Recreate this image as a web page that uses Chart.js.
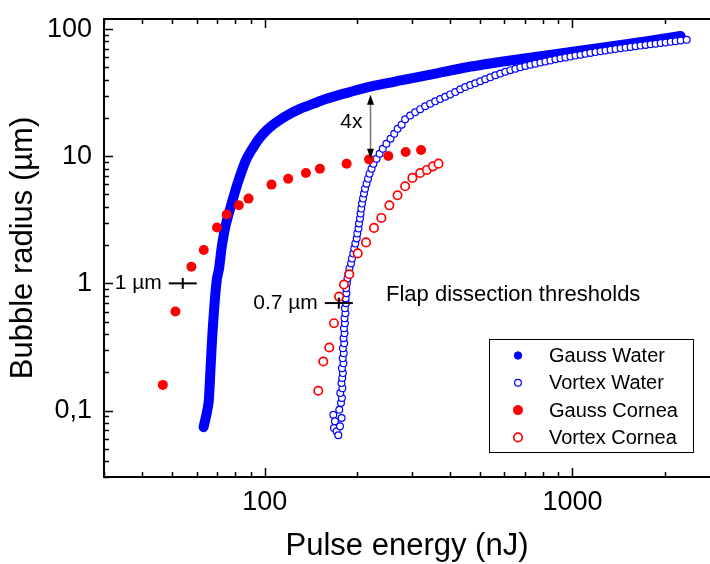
<!DOCTYPE html>
<html>
<head>
<meta charset="utf-8">
<script src="https://cdn.jsdelivr.net/npm/chart.js@4.4.1/dist/chart.umd.min.js"></script>
<style>
  html, body { margin: 0; padding: 0; background: #fff; }
</style>
</head>
<body>
<canvas id="bubbleChart" width="710" height="564"></canvas>
<script>
const FONT = "'Liberation Sans', Arial, sans-serif";

const seriesNames = ['Gauss Water', 'Vortex Water', 'Gauss Cornea', 'Vortex Cornea'];

// pulse energy (nJ) / bubble radius (µm)
const gaussWaterEnergy = [63.2, 64.6, 65.7, 66.6, 67.5, 68.7, 69.9, 71.0, 72.3, 74.6, 78.8, 82.5, 87.2, 94.0, 98.7,
    103.8, 111.9, 120.6, 130.0, 143.3, 156.8, 179.5, 219.8, 282.2, 362.5, 453.9, 628, 914, 1330, 1729, 2248];
const gaussWaterRadius = [0.074, 0.093, 0.118, 0.215, 0.393, 0.719, 1.094, 1.31, 1.88, 2.87, 4.64, 6.66, 9.55, 12.9, 15.0,
    16.88, 19.33, 21.54, 23.58, 25.8, 28.0, 30.9, 35.3, 39.8, 44.9, 50.1, 56.6, 64.2, 72.9, 79.8, 88.1];

const vortexWaterEnergy = [
    166.9, 169.0, 167.8, 171.2, 173.3, 175.5, 177.7, 174.6,
    176.8, 178.1, 175.9, 178.7, 177.4, 178.5, 179.4, 178.1, 180.1, 179.1, 180.5, 179.4, 181.2, 180.2, 181.6, 180.8,
    182.1, 181.5, 182.8, 182.1, 183.5, 183.1, 184.2, 183.8, 184.9, 185.6, 187.0, 188.4, 190.6, 192.0, 193.8, 195.3,
    196.8, 198.9, 199.8, 201.6, 202.4, 203.9, 204.7, 205.9, 207.0, 208.5, 210.1, 211.7, 214.1, 216.5, 219.0, 222.2,
    225.5, 230.8, 236.1, 241.7, 248.4, 256.2, 263.4, 270.2, 278.4,
    285.8, 296.7, 308.1, 319.8, 332.0, 344.7, 357.9, 371.5, 385.7, 400.5, 415.8, 431.7, 448.2, 465.3, 483.1, 501.6,
    520.7, 540.6, 561.3, 582.8, 605.0, 628.1, 652.2, 677.1, 703.0, 729.8, 757.7, 786.7, 816.7, 847.9, 880.3, 913.9,
    948.9, 985.1, 1023, 1062, 1102, 1144, 1188, 1234, 1281, 1330, 1381, 1434, 1488, 1545, 1604, 1665, 1729, 1795,
    1864, 1935, 2009, 2086, 2166, 2248, 2352];
const vortexWaterRadius = [
    0.0927, 0.0823, 0.0729, 0.0687, 0.0639, 0.0752, 0.0873, 0.1015,
    0.1145, 0.1253, 0.1372, 0.150, 0.1643, 0.180, 0.197, 0.2154, 0.2358, 0.258, 0.2825, 0.309, 0.338, 0.370, 0.4055, 0.4436,
    0.4856, 0.5314, 0.5816, 0.6368, 0.6967, 0.7627, 0.835, 0.914, 1.0, 1.094, 1.198, 1.311, 1.435, 1.571, 1.719, 1.882,
    2.059, 2.254, 2.467, 2.70, 2.955, 3.234, 3.54, 3.873, 4.24, 4.64, 5.08, 5.56, 6.085, 6.66, 7.29, 7.98,
    8.73, 9.55, 10.46, 11.45, 12.53, 13.71, 15.01, 16.43, 17.66,
    19.51, 20.89, 22.13, 23.46, 24.71, 25.90, 27.00, 28.14, 29.39, 30.64, 31.94, 33.66, 34.96, 36.24, 37.51, 38.82,
    40.25, 41.73, 43.35, 44.77, 46.17, 47.53, 48.74, 50.08, 51.27, 52.40, 53.45, 54.52, 55.61, 56.72, 57.86, 58.91,
    59.88, 60.85, 61.85, 62.86, 63.89, 64.94, 65.89, 66.85, 67.83, 68.69, 69.57, 70.57, 71.47, 72.38, 73.30, 74.10,
    74.91, 75.86, 76.68, 77.66, 78.50, 79.36, 80.22, 81.24, 82.43];

const gaussCorneaEnergy = [46.6, 51.2, 57.7, 63.3, 69.9, 75.2, 82.3, 88.5, 105.1, 119.1, 136, 151, 184.5, 218.2, 252, 287, 322];
const gaussCorneaRadius = [0.159, 0.60, 1.35, 1.83, 2.75, 3.48, 4.11, 4.64, 5.98, 6.66, 7.38, 7.98, 8.74, 9.44, 10.04, 10.8, 11.2];

const vortexCorneaEnergy = [149.2, 154.9, 162.0, 167.8, 174.3, 180.8, 188.2, 200.4, 213.3, 226.4, 239.2, 254, 270, 285.8,
    301.8, 319.8, 336.3, 351.8, 366.9];
const vortexCorneaRadius = [0.143, 0.243, 0.313, 0.486, 0.787, 0.98, 1.18, 1.72, 2.10, 2.73, 3.27, 4.11, 4.93, 5.80,
    6.75, 7.38, 7.80, 8.32, 8.74];

// flap dissection thresholds
const thresholdEnergy = [54.1, 174];
const thresholdRadius = [1, 0.7];
const thresholdLabels = ['1 µm', '0.7 µm'];

// gap between Gauss and Vortex water curves
const ratioEnergy = 219.8;
const ratioRadius = [30.4, 9.55];
const ratioLabel = '4x';

const xTickValues = [100, 1000];
const xTickLabels = ['100', '1000'];
const yTickValues = [0.1, 1, 10, 100];
const yTickLabels = ['0,1', '1', '10', '100'];

const zip = (xs, ys) => xs.map((x, i) => ({ x: x, y: ys[i] }));

const BLUE = '#0000ff';
const RED = '#ff0000';

const datasets = [
    {
        label: seriesNames[0],
        data: zip(gaussWaterEnergy, gaussWaterRadius),
        showLine: true,
        borderColor: BLUE,
        borderWidth: 10,
        borderCapStyle: 'round',
        borderJoinStyle: 'round',
        tension: 0.2,
        pointRadius: 0,
        backgroundColor: BLUE,
        order: 4,
        legendMarker: { r: 3.7, fill: BLUE, stroke: BLUE, lw: 1 }
    },
    {
        label: seriesNames[1],
        data: zip(vortexWaterEnergy, vortexWaterRadius),
        pointRadius: 3.4,
        pointBorderWidth: 1.2,
        pointBorderColor: BLUE,
        pointBackgroundColor: '#fff',
        order: 3,
        legendMarker: { r: 3.4, fill: '#fff', stroke: BLUE, lw: 1.2 }
    },
    {
        label: seriesNames[2],
        data: zip(gaussCorneaEnergy, gaussCorneaRadius),
        pointRadius: 5,
        pointBorderWidth: 0,
        pointBackgroundColor: RED,
        pointBorderColor: RED,
        order: 2,
        legendMarker: { r: 5, fill: RED, stroke: RED, lw: 0 }
    },
    {
        label: seriesNames[3],
        data: zip(vortexCorneaEnergy, vortexCorneaRadius),
        pointRadius: 4.2,
        pointBorderWidth: 1.7,
        pointBorderColor: RED,
        pointBackgroundColor: '#fff',
        order: 1,
        legendMarker: { r: 4.2, fill: '#fff', stroke: RED, lw: 1.7 }
    },
    {
        label: 'threshold',
        data: zip(thresholdEnergy, thresholdRadius),
        pointStyle: 'line',
        pointRadius: 14,
        pointBorderWidth: 2,
        pointBorderColor: '#000',
        order: 0
    },
    {
        label: 'threshold',
        data: zip(thresholdEnergy, thresholdRadius),
        pointStyle: 'line',
        rotation: 90,
        pointRadius: 5.5,
        pointBorderWidth: 2,
        pointBorderColor: '#000',
        order: 0
    }
];

// ticks at every 1..9 x 10^k inside [min, max]
function logTicks(min, max) {
    const out = [];
    for (let k = Math.floor(Math.log10(min)); k <= Math.ceil(Math.log10(max)); k++) {
        for (let m = 1; m <= 9; m++) {
            const v = m * Math.pow(10, k);
            if (v >= min * 0.999 && v <= max * 1.001) out.push({ v: v, major: m === 1 });
        }
    }
    return out;
}

// inward ticks and the axis frame (top, left, bottom)
const frameTicks = {
    id: 'frameTicks',
    afterDraw(chart) {
        const { ctx, chartArea: a, scales: { x, y } } = chart;
        ctx.save();
        ctx.strokeStyle = '#000';
        ctx.lineWidth = 1.5;
        ctx.beginPath();
        logTicks(x.min, x.max).forEach(t => {
            const px = Math.round(x.getPixelForValue(t.v)) + 0.5;
            const len = t.major ? 9 : 5;
            ctx.moveTo(px, a.bottom); ctx.lineTo(px, a.bottom - len);
            ctx.moveTo(px, a.top); ctx.lineTo(px, a.top + len);
        });
        logTicks(y.min, y.max).forEach(t => {
            const py = Math.round(y.getPixelForValue(t.v)) + 0.5;
            const len = t.major ? 9 : 5;
            ctx.moveTo(a.left, py); ctx.lineTo(a.left + len, py);
        });
        ctx.stroke();
        ctx.lineWidth = 2;
        ctx.beginPath();
        ctx.moveTo(a.right, a.top);
        ctx.lineTo(a.left, a.top);
        ctx.lineTo(a.left, a.bottom);
        ctx.lineTo(a.right, a.bottom);
        ctx.stroke();
        ctx.restore();
    }
};

// arrow, text labels and the boxed legend
const annotations = {
    id: 'annotations',
    afterDraw(chart) {
        const { ctx, scales: { x, y } } = chart;
        ctx.save();
        ctx.fillStyle = '#000';
        ctx.textBaseline = 'middle';

        // threshold labels
        ctx.font = '21px ' + FONT;
        ctx.textAlign = 'right';
        thresholdLabels.forEach((txt, i) => {
            const px = x.getPixelForValue(thresholdEnergy[i]);
            const py = y.getPixelForValue(thresholdRadius[i]);
            ctx.fillText(txt, px - 21, py);
        });
        ctx.font = '22px ' + FONT;
        ctx.textAlign = 'left';
        ctx.fillText('Flap dissection thresholds', x.getPixelForValue(247.7), y.getPixelForValue(0.805));

        // double-headed arrow between the water curves
        ctx.font = '21px ' + FONT;
        const ax = Math.round(x.getPixelForValue(ratioEnergy)) + 0.5;
        const y1 = y.getPixelForValue(ratioRadius[0]);
        const y2 = y.getPixelForValue(ratioRadius[1]);
        ctx.strokeStyle = '#777';
        ctx.lineWidth = 1.5;
        ctx.beginPath();
        ctx.moveTo(ax, y1 + 6);
        ctx.lineTo(ax, y2 - 6);
        ctx.stroke();
        ctx.beginPath();
        ctx.moveTo(ax, y1); ctx.lineTo(ax - 3.5, y1 + 10); ctx.lineTo(ax + 3.5, y1 + 10); ctx.closePath();
        ctx.moveTo(ax, y2); ctx.lineTo(ax - 3.5, y2 - 10); ctx.lineTo(ax + 3.5, y2 - 10); ctx.closePath();
        ctx.fill();
        ctx.textAlign = 'right';
        ctx.fillText(ratioLabel, ax - 8, (y1 + y2) / 2 - 5);

        // legend
        const lx = 489.5, ly = 339.5, lw = 204, lh = 113;
        ctx.fillStyle = '#fff';
        ctx.fillRect(lx, ly, lw, lh);
        ctx.strokeStyle = '#000';
        ctx.lineWidth = 1;
        ctx.strokeRect(lx, ly, lw, lh);
        ctx.font = '20px ' + FONT;
        ctx.textAlign = 'left';
        datasets.slice(0, 4).forEach((ds, i) => {
            const cy = 355.5 + i * 27.3;
            const m = ds.legendMarker;
            ctx.beginPath();
            ctx.arc(518, cy, m.r, 0, Math.PI * 2);
            ctx.fillStyle = m.fill;
            ctx.fill();
            if (m.lw > 0) {
                ctx.lineWidth = m.lw;
                ctx.strokeStyle = m.stroke;
                ctx.stroke();
            }
            ctx.fillStyle = '#000';
            ctx.fillText(ds.label, 549, cy + 1);
        });
        ctx.restore();
    }
};

new Chart(document.getElementById('bubbleChart'), {
    type: 'scatter',
    data: { datasets: datasets },
    options: {
        responsive: false,
        animation: false,
        devicePixelRatio: 1,
        layout: { autoPadding: false, padding: { top: 19, right: 0, bottom: 0, left: 0 } },
        plugins: {
            legend: { display: false },
            tooltip: { enabled: false }
        },
        scales: {
            x: {
                type: 'logarithmic',
                min: 30,
                max: 2800,
                grid: { display: false, drawTicks: false },
                border: { display: false },
                afterBuildTicks: s => { s.ticks = xTickValues.map(v => ({ value: v })); },
                afterFit: s => { s.height = 87; s.paddingLeft = 0; s.paddingRight = 0; },
                ticks: {
                    autoSkip: false,
                    maxRotation: 0,
                    padding: 9,
                    color: '#000',
                    font: { family: FONT, size: 27 },
                    callback: (v, i) => xTickLabels[i]
                },
                title: {
                    display: true,
                    text: 'Pulse energy (nJ)',
                    color: '#000',
                    font: { family: FONT, size: 31, lineHeight: 1 },
                    padding: { top: 0, bottom: 2 }
                }
            },
            y: {
                type: 'logarithmic',
                min: 0.03,
                max: 120,
                grid: { display: false, drawTicks: false },
                border: { display: false },
                afterBuildTicks: s => { s.ticks = yTickValues.map(v => ({ value: v })); },
                afterFit: s => { s.width = 104; s.paddingTop = 0; s.paddingBottom = 0; },
                ticks: {
                    autoSkip: false,
                    padding: 12,
                    color: '#000',
                    font: { family: FONT, size: 27 },
                    callback: (v, i) => yTickLabels[i]
                },
                title: {
                    display: true,
                    text: 'Bubble radius (µm)',
                    color: '#000',
                    font: { family: FONT, size: 31, lineHeight: 1 },
                    padding: { top: 8, bottom: 0 }
                }
            }
        }
    },
    plugins: [frameTicks, annotations]
});
</script>
</body>
</html>
